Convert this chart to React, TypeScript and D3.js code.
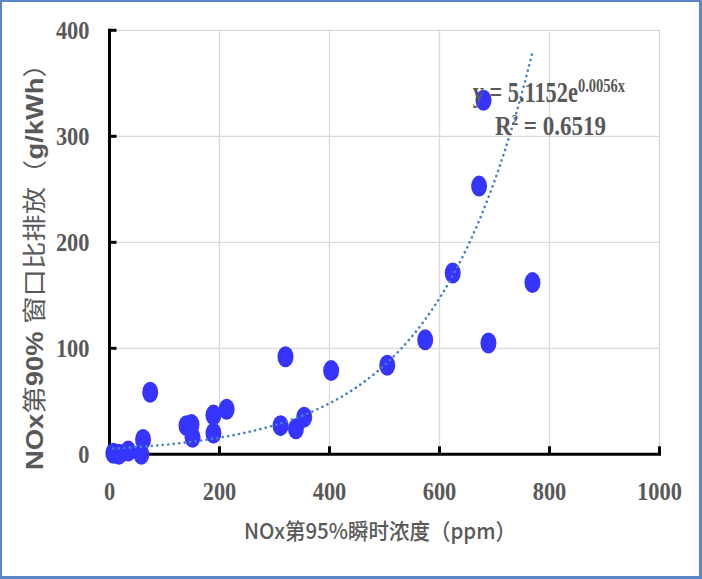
import React from "react";
import * as d3 from "d3";

// NOx 95th-percentile instantaneous concentration (ppm) vs 90th-percentile window specific emission (g/kWh)
const nox95 = [7, 17, 34, 58, 61, 74, 140, 149, 151, 189, 189, 213, 311, 320, 339, 354, 403, 505, 574, 689, 680, 672, 624, 769];
const nox90 = [1, 0, 3, 0, 14, 58.5, 27, 28, 16, 37, 20, 42.5, 27, 92, 24, 35, 79, 84, 108, 105, 334, 253, 171, 162];

const xTicks = [0, 200, 400, 600, 800, 1000];
const yTicks = [0, 100, 200, 300, 400];

// exponential trendline y = a·e^(b·x)
const fitA = 5.1152;
const fitB = 0.0056;
const fitR2 = "0.6519";

const xTitle = "NOx第95%瞬时浓度（ppm）";
const yTitleParts = [
  { t: "NOx", bold: true },
  { t: "第", bold: false },
  { t: "90% ", bold: true },
  { t: "窗口比排放（", bold: false },
  { t: "g/kWh", bold: true },
  { t: "）", bold: false },
];

const W = 702;
const H = 579;
const TEXT = "#595959";
const SERIF = "'Liberation Serif', 'Times New Roman', serif";
const SANS = "'Liberation Sans', Arial, 'Noto Sans CJK SC', sans-serif";
const CJK = "'Noto Sans CJK SC', 'Liberation Sans', sans-serif";

export default function App() {
  const x = d3.scaleLinear().domain([0, 1000]).range([109.5, 659.5]);
  const y = d3.scaleLinear().domain([0, 400]).range([454.3, 30.3]);

  const pts = nox95.map((v, i) => ({ x: v, y: nox90[i] }));
  const [xMin, xMax] = d3.extent(nox95) as [number, number];
  const trend = d3.range(0, 201).map((i) => {
    const xv = xMin + ((xMax - xMin) * i) / 200;
    return [xv, fitA * Math.exp(fitB * xv)] as [number, number];
  });
  const trendPath = d3
    .line<[number, number]>()
    .x((d) => x(d[0]))
    .y((d) => y(d[1]))(trend) as string;

  const digitW = 11.2;

  return (
    <svg
      width={W}
      height={H}
      viewBox={`0 0 ${W} ${H}`}
      style={{ position: "absolute", left: 0, top: 0, background: "#fff" }}
    >
      <rect x={0} y={0} width={W} height={H} fill="#fff" />
      {/* frame */}
      <rect x={1} y={1} width={W - 3.5} height={H - 3.5} fill="none" stroke="#d4d4d4" strokeWidth={1} />
      <path d={`M1,${H} L1,1 L${W},1`} fill="none" stroke="#5b87c7" strokeWidth={2} />
      <path
        d={`M${W - 1.5},0 L${W - 1.5},${H - 1.5} L0,${H - 1.5}`}
        fill="none"
        stroke="#5b87c7"
        strokeWidth={3}
      />

      {/* gridlines */}
      {xTicks.slice(1).map((t) => (
        <line key={`gx${t}`} x1={x(t)} x2={x(t)} y1={y(400)} y2={y(0)} stroke="#d9d9d9" strokeWidth={1.3} />
      ))}
      {yTicks.slice(1).map((t) => (
        <line key={`gy${t}`} x1={x(0)} x2={x(1000)} y1={y(t)} y2={y(t)} stroke="#d9d9d9" strokeWidth={1.3} />
      ))}

      {/* axes */}
      <line x1={x(0)} x2={x(0)} y1={y(400) - 1.5} y2={y(0) + 1.5} stroke="#000" strokeWidth={3} />
      <line x1={x(0) - 1.5} x2={x(1000) + 1.5} y1={y(0)} y2={y(0)} stroke="#000" strokeWidth={3} />
      {yTicks.slice(1).map((t) => (
        <line key={`ty${t}`} x1={x(0)} x2={x(0) + 7} y1={y(t)} y2={y(t)} stroke="#000" strokeWidth={3} />
      ))}
      {xTicks.slice(1).map((t) => (
        <line key={`tx${t}`} x1={x(t)} x2={x(t)} y1={y(0)} y2={y(0) - 8} stroke="#000" strokeWidth={3} />
      ))}

      {/* tick labels */}
      {yTicks.map((t) => (
        <text
          key={`ly${t}`}
          x={89.5}
          y={y(t) + 9}
          textAnchor="end"
          fontFamily={SERIF}
          fontWeight="bold"
          fontSize={26}
          fill={TEXT}
          textLength={String(t).length * digitW}
          lengthAdjust="spacingAndGlyphs"
        >
          {t}
        </text>
      ))}
      {xTicks.map((t) => (
        <text
          key={`lx${t}`}
          x={x(t)}
          y={500}
          textAnchor="middle"
          fontFamily={SERIF}
          fontWeight="bold"
          fontSize={26}
          fill={TEXT}
          textLength={String(t).length * digitW}
          lengthAdjust="spacingAndGlyphs"
        >
          {t}
        </text>
      ))}

      {/* axis titles */}
      <text
        x={380}
        y={539}
        textAnchor="middle"
        fontFamily={CJK}
        fontSize={22}
        fontWeight={500}
        fill={TEXT}
        textLength={272}
        lengthAdjust="spacingAndGlyphs"
      >
        {xTitle}
      </text>
      <text
        transform="translate(43,260) rotate(-90)"
        textAnchor="middle"
        fontSize={24}
        fill={TEXT}
        textLength={420}
        lengthAdjust="spacingAndGlyphs"
      >
        {yTitleParts.map((p, i) => (
          <tspan key={i} fontFamily={p.bold ? SANS : CJK} fontWeight={p.bold ? "bold" : "normal"}>
            {p.t}
          </tspan>
        ))}
      </text>

      {/* data points */}
      {pts.map((d, i) => (
        <ellipse key={i} cx={x(d.x)} cy={y(d.y)} rx={8} ry={10.5} fill="#3535ff" />
      ))}

      {/* trendline */}
      <path
        d={trendPath}
        fill="none"
        stroke="#4a7fc8"
        strokeWidth={2.6}
        strokeDasharray="0.1 5.4"
        strokeLinecap="round"
      />

      {/* trendline equation and R² */}
      <text
        transform="translate(472.7,101.7) scale(0.745,1)"
        fontFamily={SERIF}
        fontWeight="bold"
        fontSize={30}
        fill={TEXT}
      >
        {`y = ${fitA}e`}
        <tspan dy={-10} fontSize={19.5}>{`${fitB}x`}</tspan>
      </text>
      <text
        transform="translate(495,135) scale(0.854,1)"
        fontFamily={SERIF}
        fontWeight="bold"
        fontSize={27}
        fill={TEXT}
      >
        R
        <tspan dy={-10} fontSize={15}>2</tspan>
        <tspan dy={10}>{` = ${fitR2}`}</tspan>
      </text>
    </svg>
  );
}
